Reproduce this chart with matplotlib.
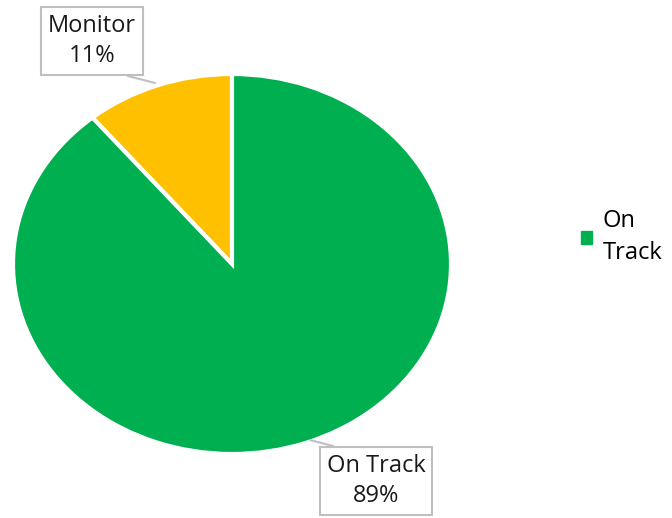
import matplotlib.pyplot as plt
from matplotlib.patches import Patch

labels = ["Monitor", "On Track"]
shares = [11, 89]
colors = ["#FFC000", "#00B050"]

plt.rcParams['font.family'] = ['Open Sans', 'DejaVu Sans']

fig = plt.figure(figsize=(6.72, 5.18), dpi=100)
# pie is stretched wider than tall, so no equal aspect
ax = fig.add_axes([13/672, 64/518, 438/672, 380/518])
wedges, _ = ax.pie(shares, colors=colors, startangle=90, counterclock=True,
                   wedgeprops=dict(edgecolor="white", linewidth=3))
ax.set_aspect("auto")
ax.set_xlim(-1, 1)
ax.set_ylim(-1, 1)

# callout labels (positions in figure pixels, origin bottom-left)
boxes = [((92, 477), (155, 435), (0.56, 0)), ((376, 37), (310, 78), (0.37, 1))]
for (lab, val, (txt, tip, rel)) in zip(labels, shares, boxes):
    ax.annotate(f"{lab}\n{val}%", xy=tip, xycoords="figure pixels",
                xytext=txt, textcoords="figure pixels",
                ha="center", va="center", fontsize=17, color="#1a1a1a",
                linespacing=1.35,
                bbox=dict(boxstyle="square,pad=0.3", fc="white", ec="#BFBFBF", lw=1.5),
                arrowprops=dict(arrowstyle="-", color="#BFBFBF", lw=1.5,
                                shrinkA=0, shrinkB=0, relpos=rel))

leg = fig.legend([Patch(color=colors[1])], ["On\nTrack"], loc="center left",
                 bbox_to_anchor=(560/672, 281/518), frameon=False, fontsize=17,
                 handlelength=0.45, handleheight=0.45, handletextpad=0.45)
for t in leg.get_texts():
    t.set_linespacing(1.45)

fig.savefig("out.png", dpi=100)
